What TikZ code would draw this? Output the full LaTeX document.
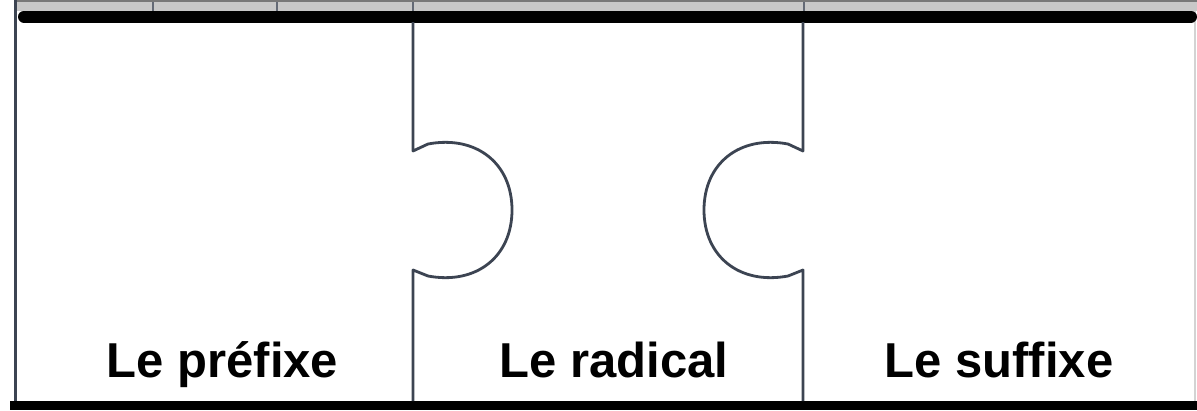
\documentclass[tikz,border=0pt]{standalone}
\usepackage{fontspec}
\setmainfont{Liberation Sans}
\definecolor{piececol}{RGB}{60,68,82}
\definecolor{bandcol}{RGB}{200,200,200}
\definecolor{framecol}{RGB}{120,120,120}
\tikzset{
  piece/.style={draw=piececol, line width=2.8pt, line join=round},
  bar/.style={draw=black},
  tick/.style={draw=piececol!80, line width=2pt},
  label/.style={anchor=base, inner sep=0pt, font=\fontsize{49}{52}\selectfont\bfseries}
}
\begin{document}
\begin{tikzpicture}[x=1pt,y=-1pt]
\useasboundingbox (0,0) rectangle (1197,410);
\fill[white] (0,0) rectangle (1197,410);
% top grey band
\fill[bandcol] (15,2) rectangle (1197,11);
\draw[framecol, line width=2pt] (15,1) -- (1197,1);
\foreach \x in {153,277,413,804}{\draw[tick] (\x,2) -- (\x,11);}
% left and right frame lines
\draw[piececol, line width=3pt] (15,0) -- (15,401);
\draw[bandcol!80, line width=2.5pt] (1195,11) -- (1195,401);
% thick black bars
\draw[bar, line width=12pt, line cap=round] (24,16.5) -- (1191,16.5);
\draw[bar, line width=9pt] (10,405.5) -- (1197,405.5);
% puzzle divisions
\draw[piece] (413,22) -- (413,151) -- (428,144)
  .. controls (476,135) and (512,163) .. (512,210)
  .. controls (512,257) and (476,285) .. (428,276)
  -- (413,270) -- (413,401);
\draw[piece] (803,22) -- (803,151) -- (788,144)
  .. controls (740,135) and (704,163) .. (704,210)
  .. controls (704,257) and (740,285) .. (788,276)
  -- (803,270) -- (803,401);
% labels
\node[label] (prefixe) at (222.5,377) {Le préfixe};
\node[label] (radical) at (614,377) {Le radical};
\node[label] (suffixe) at (999,377) {Le suffixe};
\end{tikzpicture}
\end{document}
